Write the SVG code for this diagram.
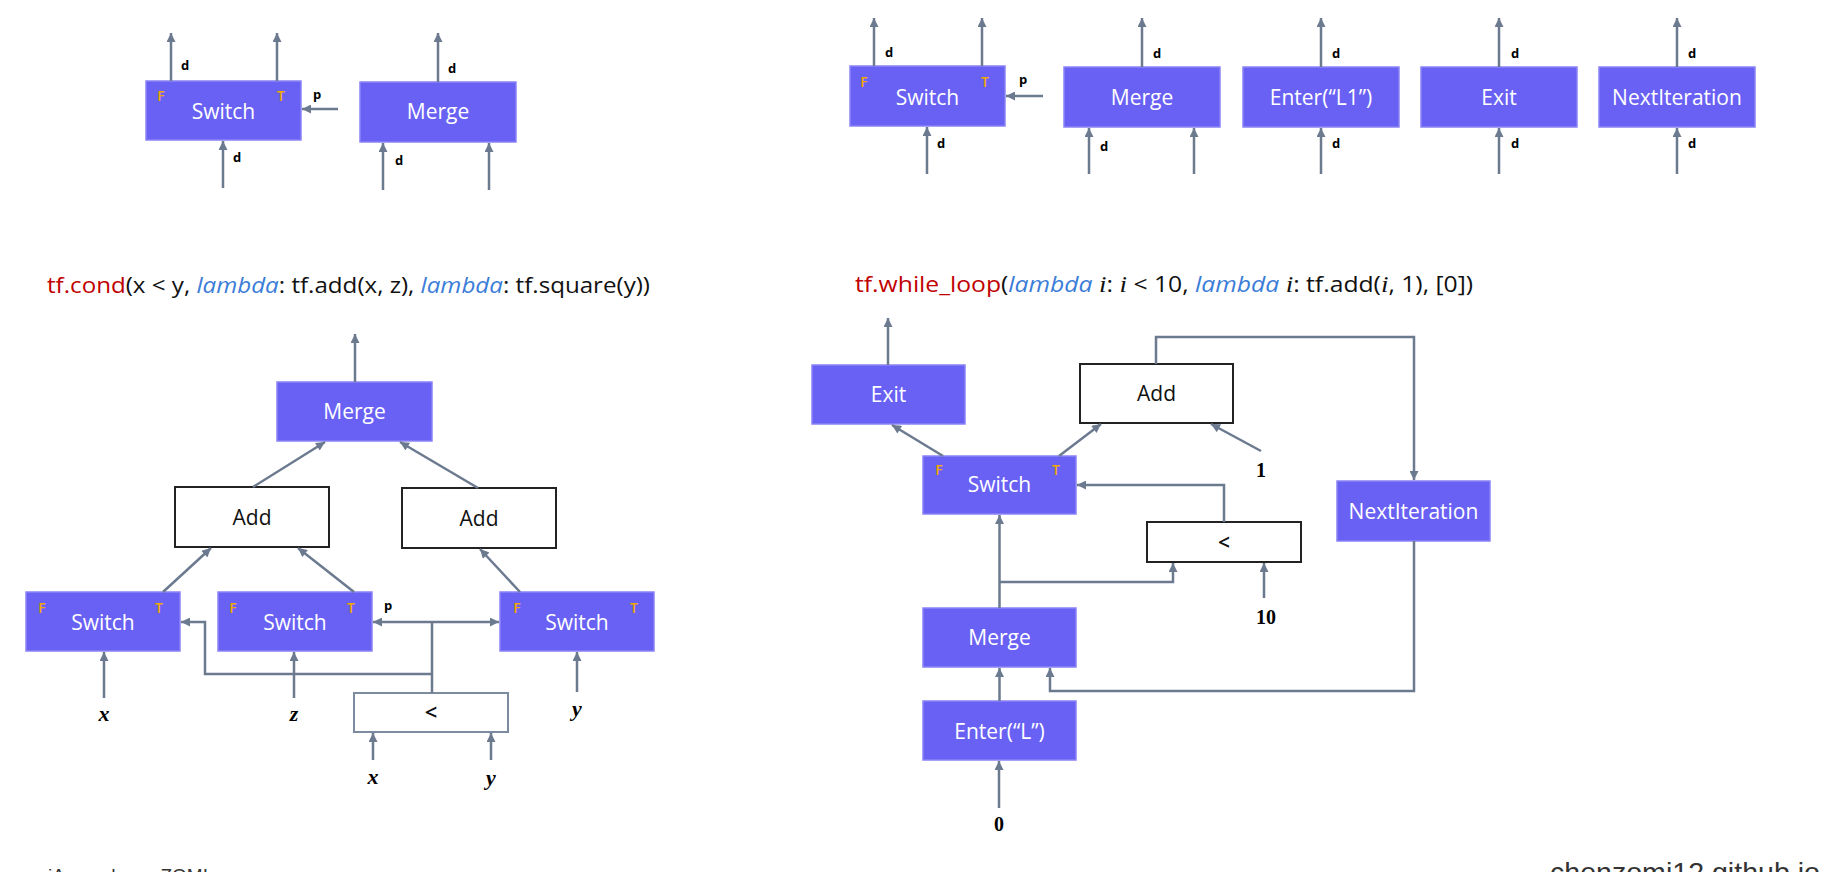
<svg xmlns="http://www.w3.org/2000/svg" width="1828" height="872" viewBox="0 0 1828 872">
<defs>
<marker id="ah" viewBox="0 0 10 10" refX="10" refY="5" markerWidth="10" markerHeight="9" markerUnits="userSpaceOnUse" orient="auto"><path d="M0,0 L10,5 L0,10 z" fill="#6b7a8f"/></marker>
<style>
.op rect{fill:#6961f4;stroke:#8a83f6;stroke-width:1.5}
.lbl{fill:#fff;font-family:"Open Sans",sans-serif;font-size:21px;text-anchor:middle}
.box rect{fill:#fff;stroke:#222;stroke-width:2}
.box text{fill:#111;font-family:"Open Sans",sans-serif;font-size:21px;text-anchor:middle}
.ft{fill:#f0a800;font-family:"Open Sans",sans-serif;font-weight:600;font-size:14px;text-anchor:middle}
.edge{fill:none;stroke:#6b7a8f;stroke-width:2.5}
.arr{marker-end:url(#ah)}
.port{font-family:"Open Sans",sans-serif;font-weight:bold;font-size:13px;fill:#000;text-anchor:middle}
.math{font-family:"Liberation Serif",serif;font-weight:bold;font-style:italic;font-size:22px;text-anchor:middle;fill:#000}
.num{font-family:"Liberation Serif",serif;font-weight:bold;font-size:20px;text-anchor:middle;fill:#000}
.title{font-family:"Open Sans",sans-serif;font-size:21px;fill:#111}
.kw{fill:#c00000}
.lam{fill:#3b7dd8;font-style:italic}
.iv{font-family:"Liberation Serif",serif;font-style:italic;font-size:23px}
.foot{font-family:"Liberation Sans",sans-serif;fill:#333}
</style>
</defs>
<rect width="1828" height="872" fill="#fff"/>

<!-- ===== top-left legend ===== -->
<g id="tl-switch" class="op">
<rect x="146" y="81" width="155" height="59"/>
<text class="lbl" x="223.5" y="119">Switch</text>
<text class="ft" x="161" y="101">F</text>
<text class="ft" x="281" y="101">T</text>
</g>
<g id="tl-merge" class="op">
<rect x="360" y="82" width="156" height="60"/>
<text class="lbl" x="438" y="119">Merge</text>
</g>

<!-- ===== top-right legend ===== -->
<g id="tr-switch" class="op">
<rect x="850" y="66" width="155" height="60"/>
<text class="lbl" x="927.5" y="105">Switch</text>
<text class="ft" x="864" y="87">F</text>
<text class="ft" x="985" y="87">T</text>
</g>
<g id="tr-merge" class="op">
<rect x="1064" y="67" width="156" height="60"/>
<text class="lbl" x="1142" y="105">Merge</text>
</g>
<g id="tr-enter" class="op">
<rect x="1243" y="67" width="156" height="60"/>
<text class="lbl" x="1321" y="105">Enter(“L1”)</text>
</g>
<g id="tr-exit" class="op">
<rect x="1421" y="67" width="156" height="60"/>
<text class="lbl" x="1499" y="105">Exit</text>
</g>
<g id="tr-next" class="op">
<rect x="1599" y="67" width="156" height="60"/>
<text class="lbl" x="1677" y="105">NextIteration</text>
</g>

<!-- ===== bottom-left: tf.cond ===== -->
<text id="cond-title" class="title" x="47" y="293" textLength="603" lengthAdjust="spacingAndGlyphs"><tspan class="kw">tf.cond</tspan>(x &lt; y, <tspan class="lam">lambda</tspan>: tf.add(x, z), <tspan class="lam">lambda</tspan>: tf.square(y))</text>

<g id="c-merge" class="op">
<rect x="277" y="382" width="155" height="59"/>
<text class="lbl" x="354.5" y="419">Merge</text>
</g>
<g id="c-add1" class="box">
<rect x="175" y="487" width="154" height="60"/>
<text x="252" y="525">Add</text>
</g>
<g id="c-add2" class="box">
<rect x="402" y="488" width="154" height="60"/>
<text x="479" y="526">Add</text>
</g>
<g id="c-switch1" class="op">
<rect x="26" y="592" width="154" height="59"/>
<text class="lbl" x="103" y="630">Switch</text>
<text class="ft" x="42" y="613">F</text>
<text class="ft" x="159" y="613">T</text>
</g>
<g id="c-switch2" class="op">
<rect x="218" y="592" width="154" height="59"/>
<text class="lbl" x="295" y="630">Switch</text>
<text class="ft" x="233" y="613">F</text>
<text class="ft" x="351" y="613">T</text>
</g>
<g id="c-switch3" class="op">
<rect x="500" y="592" width="154" height="59"/>
<text class="lbl" x="577" y="630">Switch</text>
<text class="ft" x="517" y="613">F</text>
<text class="ft" x="634" y="613">T</text>
</g>
<g id="c-less">
<rect x="354" y="693" width="154" height="39" fill="#fff" stroke="#7d8ba0" stroke-width="2"/>
<text x="431" y="720" font-family="Open Sans, sans-serif" font-size="22" font-weight="600" text-anchor="middle" fill="#111">&lt;</text>
</g>

<!-- ===== bottom-right: tf.while_loop ===== -->
<text id="while-title" class="title" x="855" y="292" textLength="618" lengthAdjust="spacingAndGlyphs"><tspan class="kw">tf.while_loop</tspan>(<tspan class="lam">lambda</tspan> <tspan class="iv">i</tspan>: <tspan class="iv">i</tspan> &lt; 10, <tspan class="lam">lambda</tspan> <tspan class="iv">i</tspan>: tf.add(<tspan class="iv">i</tspan>, 1), [0])</text>

<g id="w-exit" class="op">
<rect x="812" y="365" width="153" height="59"/>
<text class="lbl" x="888.5" y="402">Exit</text>
</g>
<g id="w-add" class="box">
<rect x="1080" y="364" width="153" height="59"/>
<text x="1156.5" y="401">Add</text>
</g>
<g id="w-switch" class="op">
<rect x="923" y="456" width="153" height="58"/>
<text class="lbl" x="999.5" y="492">Switch</text>
<text class="ft" x="939" y="475">F</text>
<text class="ft" x="1056" y="475">T</text>
</g>
<g id="w-next" class="op">
<rect x="1337" y="481" width="153" height="60"/>
<text class="lbl" x="1413.5" y="519">NextIteration</text>
</g>
<g id="w-less" class="box">
<rect x="1147" y="522" width="154" height="40"/>
<text x="1224" y="550" font-size="22" font-weight="600">&lt;</text>
</g>
<g id="w-merge" class="op">
<rect x="923" y="608" width="153" height="59"/>
<text class="lbl" x="999.5" y="645">Merge</text>
</g>
<g id="w-enter" class="op">
<rect x="923" y="701" width="153" height="59"/>
<text class="lbl" x="999.5" y="739">Enter(“L”)</text>
</g>

<!-- ===== connectors ===== -->
<g id="connectors">
<!-- top-left -->
<path class="edge arr" d="M171,81 V33"/>
<path class="edge arr" d="M277,81 V33"/>
<path class="edge arr" d="M338,109 H302"/>
<path class="edge arr" d="M223,188 V141"/>
<path class="edge arr" d="M438,82 V33"/>
<path class="edge arr" d="M383,190 V143"/>
<path class="edge arr" d="M489,190 V143"/>
<!-- top-right -->
<path class="edge arr" d="M874,66 V18"/>
<path class="edge arr" d="M982,66 V18"/>
<path class="edge arr" d="M1043,96 H1006"/>
<path class="edge arr" d="M927,174 V127"/>
<path class="edge arr" d="M1142,67 V18"/>
<path class="edge arr" d="M1089,174 V128"/>
<path class="edge arr" d="M1194,174 V128"/>
<path class="edge arr" d="M1321,67 V18"/>
<path class="edge arr" d="M1321,174 V128"/>
<path class="edge arr" d="M1499,67 V18"/>
<path class="edge arr" d="M1499,174 V128"/>
<path class="edge arr" d="M1677,67 V18"/>
<path class="edge arr" d="M1677,174 V128"/>
<!-- bottom-left -->
<path class="edge arr" d="M355,382 V334"/>
<path class="edge arr" d="M253,487 L325,442"/>
<path class="edge arr" d="M478,488 L400,442"/>
<path class="edge arr" d="M163,592 L211,548"/>
<path class="edge arr" d="M354,592 L298,548"/>
<path class="edge arr" d="M520,592 L480,549"/>
<path class="edge arr" d="M104,698 V652"/>
<path class="edge arr" d="M294,698 V652"/>
<path class="edge arr" d="M577,692 V652"/>
<path class="edge arr" d="M373,760 V733"/>
<path class="edge arr" d="M491,760 V733"/>
<path class="edge" d="M432,693 V622"/>
<path class="edge arr" d="M432,622 H373"/>
<path class="edge arr" d="M432,622 H499"/>
<path class="edge arr" d="M432,674 H205 V622 H181"/>
<!-- bottom-right -->
<path class="edge arr" d="M888,365 V318"/>
<path class="edge arr" d="M943,456 L892,425"/>
<path class="edge arr" d="M1059,456 L1101,424"/>
<path class="edge arr" d="M1261,451 L1211,424"/>
<path class="edge arr" d="M1156,364 V337 H1414 V480"/>
<path class="edge arr" d="M1414,541 V691 H1050 V668"/>
<path class="edge arr" d="M1224,522 V485 H1077"/>
<path class="edge arr" d="M999.5,608 V515"/>
<path class="edge arr" d="M999.5,582 H1173 V563"/>
<path class="edge arr" d="M1264,598 V563"/>
<path class="edge arr" d="M999.5,701 V668"/>
<path class="edge arr" d="M999,808 V761"/>
</g>

<!-- port / input labels -->
<g id="labels">
<text class="port" x="185" y="70">d</text>
<text class="port" x="317" y="99">p</text>
<text class="port" x="237" y="162">d</text>
<text class="port" x="452" y="73">d</text>
<text class="port" x="399" y="165">d</text>
<text class="port" x="889" y="57">d</text>
<text class="port" x="1023" y="84">p</text>
<text class="port" x="941" y="148">d</text>
<text class="port" x="1157" y="58">d</text>
<text class="port" x="1104" y="151">d</text>
<text class="port" x="1336" y="58">d</text>
<text class="port" x="1336" y="148">d</text>
<text class="port" x="1515" y="58">d</text>
<text class="port" x="1515" y="148">d</text>
<text class="port" x="1692" y="58">d</text>
<text class="port" x="1692" y="148">d</text>
<text class="port" x="388" y="610">p</text>
<text class="math" x="104" y="721">x</text>
<text class="math" x="294" y="721">z</text>
<text class="math" x="577" y="716">y</text>
<text class="math" x="373" y="784">x</text>
<text class="math" x="491" y="785">y</text>
<text class="num" x="1261" y="477">1</text>
<text class="num" x="1266" y="624">10</text>
<text class="num" x="999" y="831">0</text>
</g>

<!-- footer (clipped by bottom edge, as in the reference) -->
<text class="foot" x="48" y="882" font-size="19" word-spacing="14">iAscend · ZOMI</text>
<text class="foot" x="1550" y="882" font-size="28" textLength="270" lengthAdjust="spacingAndGlyphs">chenzomi12.github.io</text>
</svg>
